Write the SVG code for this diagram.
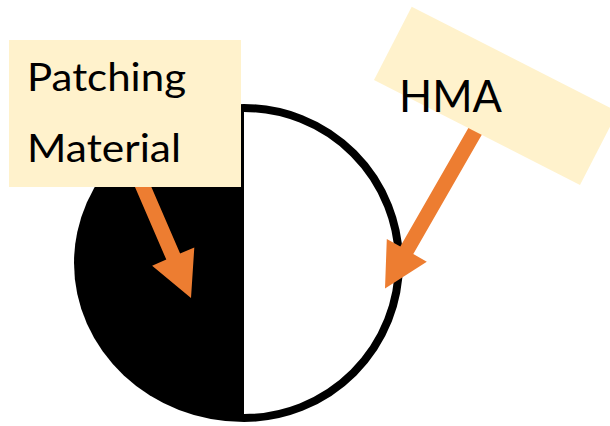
<svg xmlns="http://www.w3.org/2000/svg" width="610" height="426" viewBox="0 0 610 426">
<style>
.lbl{fill:#FFF2CC}
.arrow{fill:#ED7D31}
.t{font-family:Lato,"Open Sans",sans-serif;fill:#000}
</style>
<rect width="610" height="426" fill="#fff"/>
<g id="circle">
<path d="M244,104 A170,159 0 0 0 244,422 Z" fill="#000"/>
<path d="M244,108 A155,155 0 0 1 244,418" fill="#fff" stroke="#000" stroke-width="8"/>
</g>
<g id="connectors">
<polygon class="arrow" points="128.5,171.9 142.3,165.9 180.1,253.6 194.3,247.5 191,298 152.1,265.7 166.3,259.6"/>
<polygon class="arrow" points="478.4,110.6 491.4,118 413.3,254 426.8,261.7 385,288.5 386.8,238.9 400.3,246.6"/>
</g>
<g id="patching">
<rect class="lbl" x="9" y="40" width="232" height="147"/>
<text class="t" x="27" y="91" font-size="39" textLength="159" lengthAdjust="spacingAndGlyphs">Patching</text>
<text class="t" x="27" y="162" font-size="39" textLength="154" lengthAdjust="spacingAndGlyphs">Material</text>
</g>
<g id="hma">
<polygon class="lbl" points="411.7,6.7 617.7,111.7 580,185 374,80"/>
<text class="t" x="399" y="112" font-size="45" textLength="103" lengthAdjust="spacingAndGlyphs">HMA</text>
</g>
</svg>
